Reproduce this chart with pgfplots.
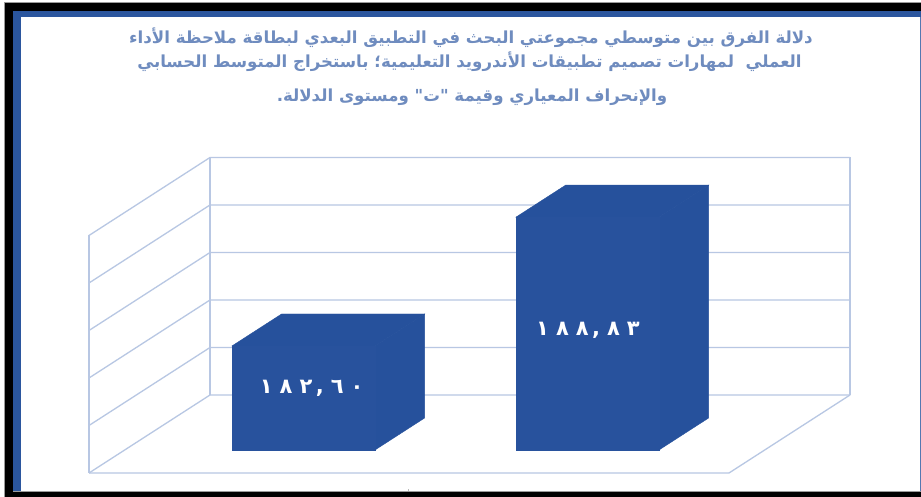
\documentclass[border=0pt]{standalone}
\usepackage{fontspec}
\usepackage{pgfplots}
\pgfplotsset{compat=1.18}
\TeXXeTstate=1
\newfontfamily\arabicfont[Script=Arabic]{DejaVu Sans}
\definecolor{framegray}{HTML}{9A9A9A}
\definecolor{frameblue}{HTML}{2B569E}
\definecolor{titleblue}{HTML}{6F8CBF}
\definecolor{wallline}{HTML}{B8C7E3}
\definecolor{barfront}{HTML}{28529D}
\definecolor{bartop}{HTML}{26519C}
\newcommand{\titleline}[1]{\arabicfont\bfseries\beginR #1\endR}
\begin{document}
\begin{tikzpicture}[x=1pt,y=1pt]
\useasboundingbox (0,0) rectangle (921,497);
\fill[white] (0,0) rectangle (921,497);
% Slide border
\fill[framegray] (4,0) rectangle (5,495);
\fill[framegray] (4,493.5) rectangle (921,495);
\fill[black] (5,0) rectangle (13,493.5);
\fill[black] (5,486) rectangle (921,493.5);
\fill[frameblue] (13,5) rectangle (21,486);
\fill[frameblue] (13,480) rectangle (921,486);
\fill[frameblue!80] (919.8,5) rectangle (921,480);
\fill[black] (5,0) rectangle (921,5);
\fill[framegray] (13,5) rectangle (921,5.7);
\fill[framegray!70] (407.6,5.7) rectangle (408.8,8);
% Heading
\node[text=titleblue,font=\fontsize{16.6}{20}\selectfont] at (471,459.5) {\titleline{دلالة الفرق بين متوسطي مجموعتي البحث في التطبيق البعدي لبطاقة ملاحظة الأداء}};
\node[text=titleblue,font=\fontsize{16.6}{20}\selectfont] at (469.5,435.5) {\titleline{العملي\ \ لمهارات تصميم تطبيقات الأندرويد التعليمية؛ باستخراج المتوسط الحسابي}};
\node[text=titleblue,font=\fontsize{16.6}{20}\selectfont] at (472,400) {\titleline{والإنحراف المعياري وقيمة "ت" ومستوى الدلالة.}};
% Oblique chart: x runs across, y is depth, z is the mean score
\begin{axis}[
  at={(89pt,24pt)},anchor=south west,
  x={(1pt,0pt)},y={(121pt,78pt)},z={(0pt,20.68pt)},
  xmin=0,xmax=640,ymin=0,ymax=1,zmin=177.57,zmax=189.055,
  axis lines=none,clip=false,
  wall/.style={wallline,line width=1.3pt,no marks,solid},
  face/.style={line width=0.4pt,no marks,solid},
]
\addplot3[wall] coordinates {(0,0,177.57) (640,0,177.57) (640,1,177.57)};
\addplot3[wall] coordinates {(0,0,177.57) (0,1,177.57) (640,1,177.57)};
\addplot3[wall] coordinates {(0,0,179.867) (0,1,179.867) (640,1,179.867)};
\addplot3[wall] coordinates {(0,0,182.164) (0,1,182.164) (640,1,182.164)};
\addplot3[wall] coordinates {(0,0,184.461) (0,1,184.461) (640,1,184.461)};
\addplot3[wall] coordinates {(0,0,186.758) (0,1,186.758) (640,1,186.758)};
\addplot3[wall] coordinates {(0,0,189.055) (0,1,189.055) (640,1,189.055)};
\addplot3[wall] coordinates {(0,0,177.57) (0,0,189.055)};
\addplot3[wall] coordinates {(0,1,177.57) (0,1,189.055)};
\addplot3[wall] coordinates {(640,1,177.57) (640,1,189.055)};
% First group
\addplot3[face,draw=bartop,fill=bartop] coordinates {(107.3,0.295,182.60) (250.3,0.295,182.60) (250.3,0.705,182.60) (107.3,0.705,182.60)} --cycle;
\addplot3[face,draw=bartop,fill=bartop] coordinates {(250.3,0.295,177.57) (250.3,0.705,177.57) (250.3,0.705,182.60) (250.3,0.295,182.60)} --cycle;
\addplot3[face,draw=barfront,fill=barfront] coordinates {(107.3,0.295,177.57) (250.3,0.295,177.57) (250.3,0.295,182.60) (107.3,0.295,182.60)} --cycle;
% Second group
\addplot3[face,draw=bartop,fill=bartop] coordinates {(391.3,0.295,188.83) (534.3,0.295,188.83) (534.3,0.705,188.83) (391.3,0.705,188.83)} --cycle;
\addplot3[face,draw=bartop,fill=bartop] coordinates {(534.3,0.295,177.57) (534.3,0.705,177.57) (534.3,0.705,188.83) (534.3,0.295,188.83)} --cycle;
\addplot3[face,draw=barfront,fill=barfront] coordinates {(391.3,0.295,177.57) (534.3,0.295,177.57) (534.3,0.295,188.83) (391.3,0.295,188.83)} --cycle;
\node[text=white,font=\fontsize{21}{24}\selectfont] at (axis cs:187,0.295,180.57) {\arabicfont\bfseries ١\,\,٨\,\,٢\,,\,\,٦\,\,٠};
\node[text=white,font=\fontsize{21}{24}\selectfont] at (axis cs:463.3,0.295,183.37) {\arabicfont\bfseries ١\,\,٨\,\,٨\,,\,\,٨\,\,٣};
\end{axis}
\end{tikzpicture}
\end{document}
